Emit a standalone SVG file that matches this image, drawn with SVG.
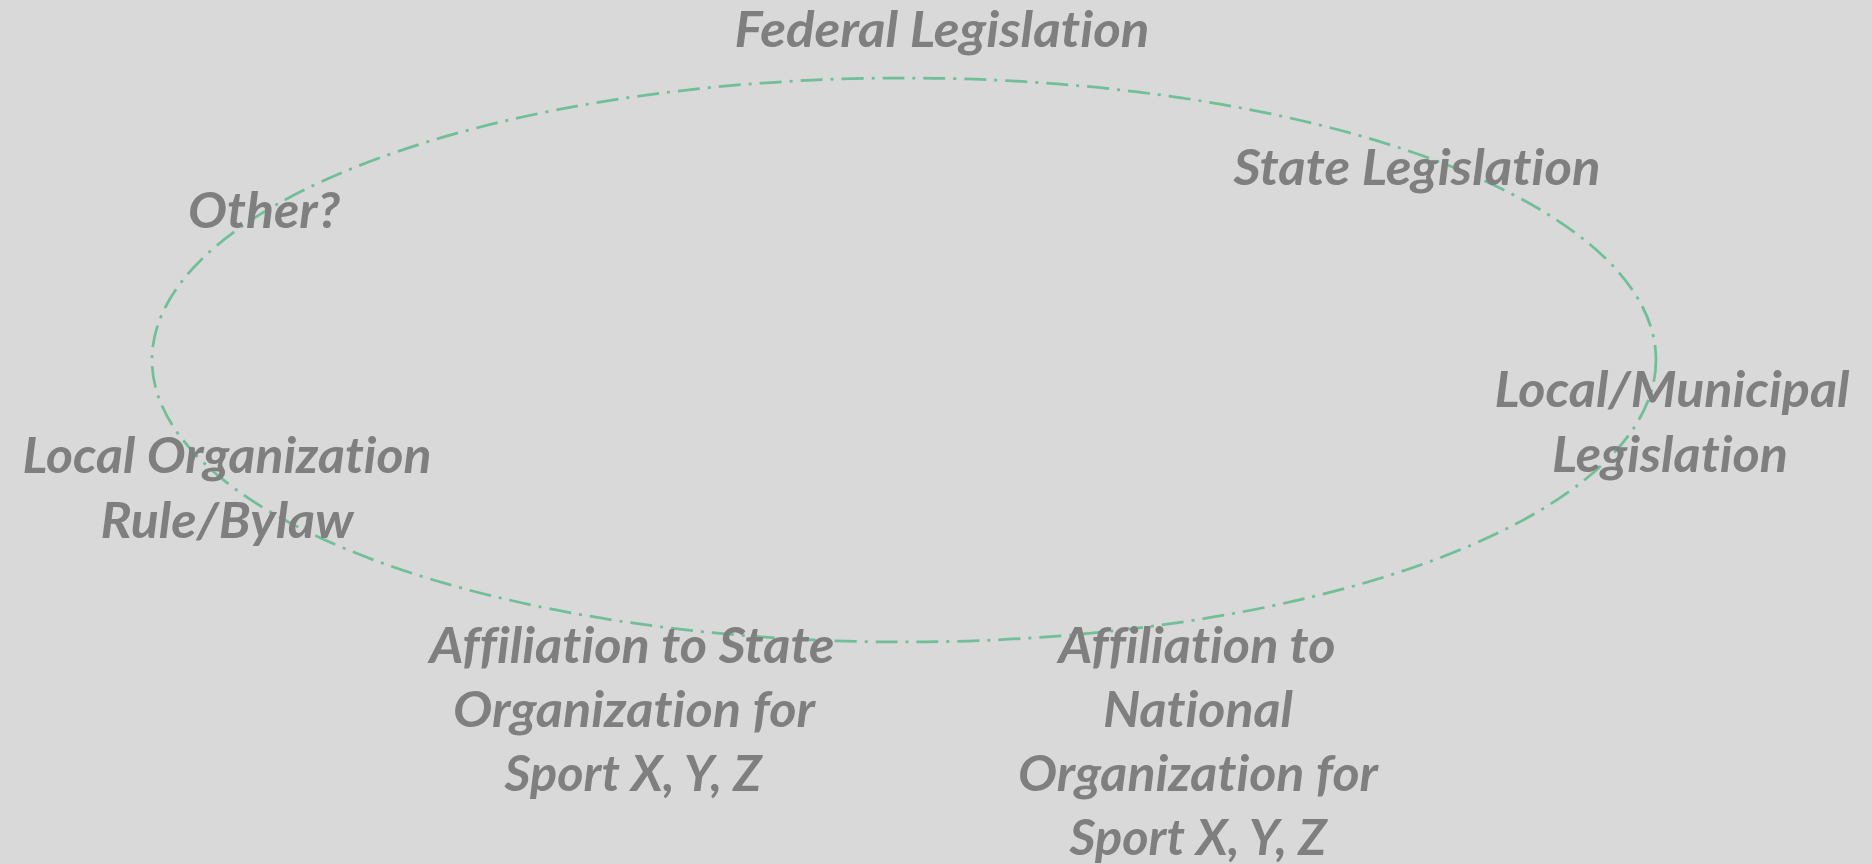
<svg xmlns="http://www.w3.org/2000/svg" width="1872" height="864" viewBox="0 0 1872 864">
<style>
.lbl{font-family:Lato,"Open Sans","Liberation Sans",sans-serif;font-weight:bold;font-style:italic;font-size:50px;fill:#7f7f7f;text-anchor:middle;font-variant-ligatures:none}
.ring{fill:none;stroke:#70bf98;stroke-width:2.75;stroke-dasharray:22 8 3 8}
</style>
<rect width="1872" height="864" fill="#d9d9d9"/>
<g id="connectors">
<ellipse class="ring" cx="904" cy="360" rx="752" ry="282"/>
</g>
<g id="federal"><text class="lbl" x="942" y="47" textLength="415" lengthAdjust="spacingAndGlyphs">Federal Legislation</text></g>
<g id="state"><text class="lbl" x="1417" y="185" textLength="367" lengthAdjust="spacingAndGlyphs">State Legislation</text></g>
<g id="other"><text class="lbl" x="264" y="228" textLength="152" lengthAdjust="spacingAndGlyphs">Other?</text></g>
<g id="local-municipal">
<text class="lbl" x="1672" y="407" textLength="355" lengthAdjust="spacingAndGlyphs">Local/Municipal</text>
<text class="lbl" x="1670" y="472" textLength="236" lengthAdjust="spacingAndGlyphs">Legislation</text>
</g>
<g id="local-org">
<text class="lbl" x="227" y="473" textLength="409" lengthAdjust="spacingAndGlyphs">Local Organization</text>
<text class="lbl" x="227" y="538" textLength="253" lengthAdjust="spacingAndGlyphs">Rule/Bylaw</text>
</g>
<g id="state-org">
<text class="lbl" x="632" y="663" textLength="405" lengthAdjust="spacingAndGlyphs">Affiliation to State</text>
<text class="lbl" x="634" y="727" textLength="362" lengthAdjust="spacingAndGlyphs">Organization for</text>
<text class="lbl" x="633" y="791" textLength="257" lengthAdjust="spacingAndGlyphs">Sport X, Y, Z</text>
</g>
<g id="national-org">
<text class="lbl" x="1197" y="663" textLength="277" lengthAdjust="spacingAndGlyphs">Affiliation to</text>
<text class="lbl" x="1198" y="727" textLength="190" lengthAdjust="spacingAndGlyphs">National</text>
<text class="lbl" x="1198" y="791" textLength="360" lengthAdjust="spacingAndGlyphs">Organization for</text>
<text class="lbl" x="1198" y="855" textLength="257" lengthAdjust="spacingAndGlyphs">Sport X, Y, Z</text>
</g>
</svg>
